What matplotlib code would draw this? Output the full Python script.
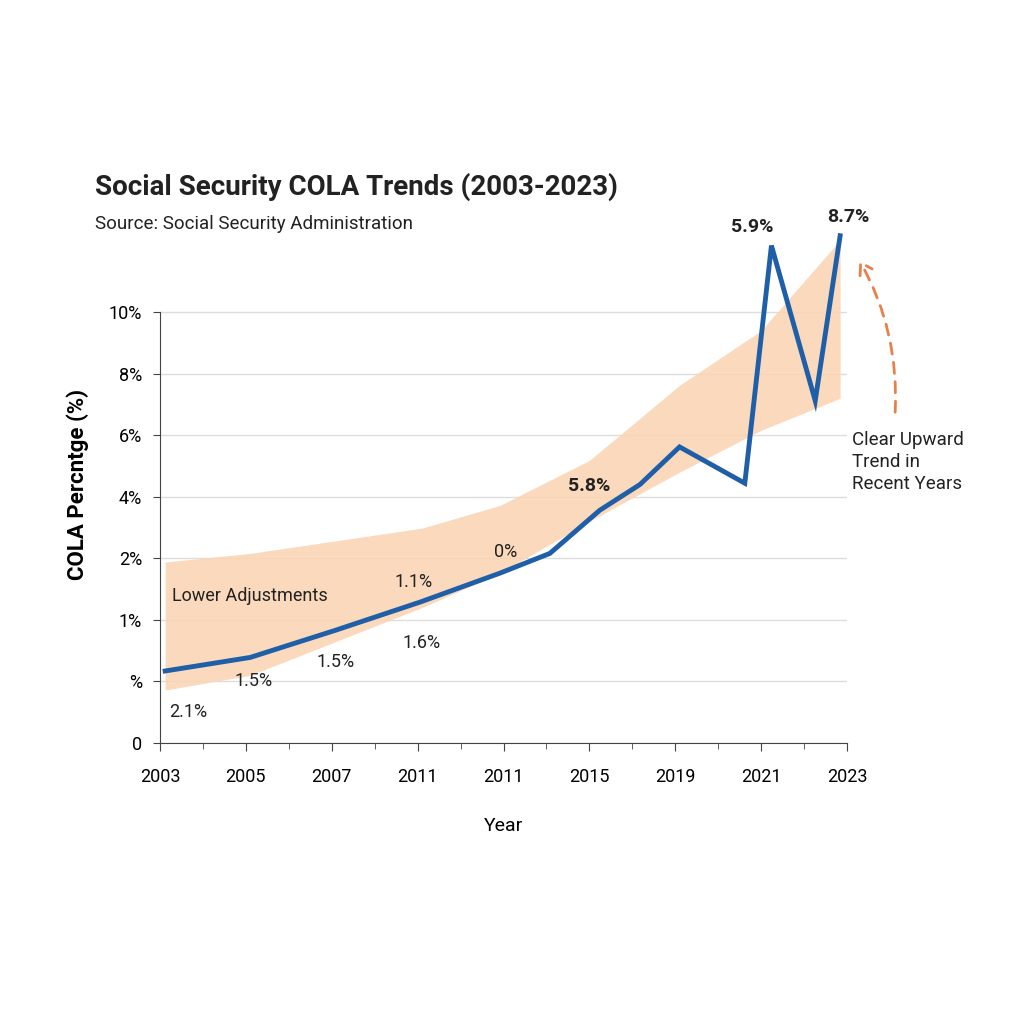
import matplotlib.pyplot as plt
from matplotlib.patches import FancyArrowPatch

plt.rcParams['font.family'] = ['Roboto', 'DejaVu Sans']

# axis labels are evenly spaced slots, as in the source picture
x_labels = ['2003', '2005', '2007', '2011', '2011', '2015', '2019', '2021', '2023']
y_labels = ['0', '%', '1%', '2%', '4%', '6%', '8%', '10%']

line_x = [0.06, 1.05, 2.04, 3.03, 3.96, 4.54, 5.12, 5.59, 6.05, 6.81, 7.12, 7.63, 7.92]
line_y = [1.17, 1.39, 1.83, 2.29, 2.76, 3.08, 3.78, 4.20, 4.81, 4.22, 8.08, 5.56, 8.24]

band_x = [0.06, 1.05, 3.05, 3.96, 5.0, 6.05, 7.0, 7.92]
band_hi = [2.94, 3.08, 3.49, 3.86, 4.59, 5.81, 6.70, 8.17]
band_lo = [0.86, 1.10, 2.20, 2.76, 3.60, 4.40, 5.08, 5.60]

point_labels = [
    (0.33, 0.50, '2.1%', 'normal'), (1.09, 1.00, '1.5%', 'normal'),
    (2.04, 1.31, '1.5%', 'normal'), (3.05, 1.62, '1.6%', 'normal'),
    (2.95, 2.61, '1.1%', 'normal'), (4.02, 3.10, '0%', 'normal'),
    (5.00, 4.17, '5.8%', 'bold'), (6.90, 8.38, '5.9%', 'bold'),
    (8.01, 8.55, '8.7%', 'bold'),
]

fig = plt.figure(figsize=(10.24, 10.24), dpi=100)
ax = fig.add_axes([160/1024, 0.2744, 687/1024, 0.505])

ax.fill_between(band_x, band_lo, band_hi, color='#fbd5b5', alpha=0.9, lw=0)
ax.plot(line_x, line_y, color='#1f5fa8', lw=3.5, solid_joinstyle='miter')

for x, y, t, w in point_labels:
    fs = 14 if w == 'bold' else 13
    ax.text(x, y, t, ha='center', va='center', fontsize=fs, fontweight=w, color='#222')
ax.text(0.14, 2.39, 'Lower Adjustments', ha='left', va='center', fontsize=13, color='#222')

ax.set_xlim(0, 8)
ax.set_ylim(0, 8.4)
ax.set_xticks(range(len(x_labels)))
ax.set_xticklabels(x_labels, fontsize=13)
ax.set_xticks([i + 0.5 for i in range(len(x_labels) - 1)], minor=True)
ax.set_yticks(range(len(y_labels)))
ax.set_yticklabels(y_labels, fontsize=13)
ax.grid(axis='y', color='#dddddd', lw=1)
ax.set_axisbelow(True)
for s in ['top', 'right']:
    ax.spines[s].set_visible(False)
ax.spines['left'].set_bounds(0, len(y_labels) - 1)
ax.spines['left'].set_color('#444')
ax.spines['bottom'].set_color('#444')
ax.tick_params(axis='x', length=6, color='#444', pad=12)
ax.tick_params(axis='x', which='minor', length=4, color='#444')
ax.tick_params(axis='y', length=5, color='#444', pad=8)
ax.set_xlabel('Year', fontsize=14, labelpad=22)
ax.set_ylabel('COLA Percntge (%)', fontsize=16, fontweight='bold', labelpad=14)

fig.text(95/1024, 1 - 187/1024, 'Social Security COLA Trends (2003-2023)',
         fontsize=20, fontweight='bold', va='center', color='#222')
fig.text(95/1024, 1 - 224/1024, 'Source: Social Security Administration',
         fontsize=13.5, va='center', color='#222')
fig.text(852/1024, 1 - 462/1024, 'Clear Upward\nTrend in\nRecent Years',
         fontsize=13.5, va='center', ha='left', color='#222', linespacing=1.3)

arrow = FancyArrowPatch((895/1024, 1 - 415/1024), (858/1024, 1 - 258/1024),
                        transform=fig.transFigure, connectionstyle='arc3,rad=0.15',
                        arrowstyle='->,head_length=8,head_width=5', color='#e8804a',
                        lw=2, linestyle=(0, (4, 3)))
fig.patches.append(arrow)

fig.savefig('out.png', dpi=100, facecolor='white')
